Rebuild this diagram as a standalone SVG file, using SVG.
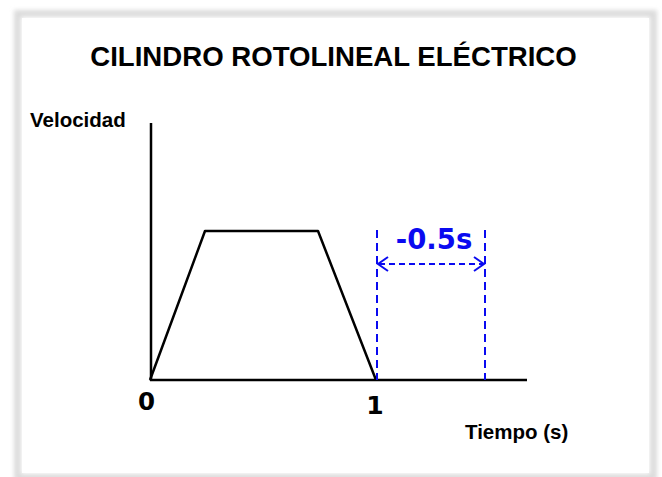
<svg xmlns="http://www.w3.org/2000/svg" width="662" height="477" viewBox="0 0 662 477">
  <defs>
    <style>
      .sans { font-family: "Liberation Sans", Arial, sans-serif; font-weight: bold; fill: #000; }
      .dv { font-family: "DejaVu Sans", Verdana, sans-serif; font-weight: bold; }
      .ax { stroke: #000; stroke-width: 2.5; fill: none; stroke-linecap: butt; }
      .curve { stroke: #000; stroke-width: 2.5; fill: none; stroke-linejoin: round; }
      .blue { stroke: #0a0af0; stroke-width: 2; fill: none; }
    </style>
    <filter id="soft" x="-5%" y="-5%" width="110%" height="110%">
      <feGaussianBlur stdDeviation="2"/>
    </filter>
  </defs>
  <rect width="662" height="477" fill="#fff"/>
  <g id="frame">
    <rect x="17.5" y="13.5" width="636" height="464" fill="none" stroke="#dcdcdc" stroke-width="7" filter="url(#soft)"/>
    <rect x="22" y="18" width="627" height="455" fill="#fff"/>
  </g>
  <g id="title">
    <text class="sans" x="333.5" y="66" font-size="27.6" text-anchor="middle">CILINDRO ROTOLINEAL ELÉCTRICO</text>
  </g>
  <g id="axes">
    <line class="ax" x1="151" y1="123" x2="151" y2="381"/>
    <line class="ax" x1="150" y1="380" x2="527" y2="380"/>
    <text class="sans" x="30" y="127" font-size="20.5">Velocidad</text>
    <text class="sans" x="465" y="439" font-size="20.5">Tiempo (s)</text>
    <text class="dv" x="146.5" y="410" font-size="24.5" text-anchor="middle">0</text>
    <text class="dv" x="375" y="414" font-size="25" text-anchor="middle">1</text>
  </g>
  <g id="profile">
    <polyline class="curve" points="150,380 205,231 318,231 376,380"/>
  </g>
  <g id="connectors">
    <line class="blue" x1="377" y1="230" x2="377" y2="380" stroke-dasharray="8,5"/>
    <line class="blue" x1="485" y1="230" x2="485" y2="380" stroke-dasharray="8,5"/>
    <line class="blue" x1="379" y1="264" x2="483" y2="264" stroke-dasharray="6,4"/>
    <polyline class="blue" points="388,257 378,264 388,271"/>
    <polyline class="blue" points="474,257 484,264 474,271"/>
    <text class="dv" x="434" y="249" font-size="27.5" text-anchor="middle" fill="#0a0af0">-0.5s</text>
  </g>
</svg>
